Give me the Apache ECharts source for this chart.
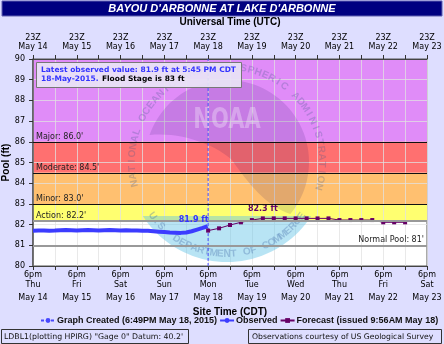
<!DOCTYPE html>
<html><head><meta charset="utf-8">
<script src="https://cdn.jsdelivr.net/npm/echarts@6/dist/echarts.min.js"></script>
<style>html,body{margin:0;padding:0;background:#dedeff;}#c{width:444px;height:344px;}</style>
</head><body><div id="c"></div>
<script>
// ---- data ----
const dayNames = ['Thu','Fri','Sat','Sun','Mon','Tue','Wed','Thu','Fri','Sat'];
const dateLabels = ['May 14','May 15','May 16','May 17','May 18','May 19','May 20','May 21','May 22','May 23'];
const utcLabel = '23Z';
// hours after 6pm CDT May 14
const obsHours = [0,3,6,9,12,15,18,21,24,27,30,33,36,39,42,45,48,51,54,57,60,63,66,69,72,75,78,81,84,87,90,93,95.75];
const obsValues = [81.70,81.71,81.72,81.70,81.71,81.73,81.74,81.73,81.72,81.73,81.74,81.73,81.72,81.73,81.74,81.73,81.72,81.73,81.72,81.71,81.70,81.70,81.68,81.66,81.64,81.62,81.61,81.60,81.62,81.68,81.76,81.84,81.92];
const fcstHours = [96,102,108,114,120,126,132,138,144,150,156,162,168,174,180,186,192,198,204];
const fcstValues = [81.71,81.82,81.98,82.11,82.22,82.3,82.3,82.3,82.3,82.3,82.3,82.3,82.22,82.22,82.22,82.22,82.11,82.11,82.11];
const graphCreatedHour = 96;
const stageNames = ['Major','Moderate','Minor','Action'];
const stageValues = [86.0,84.5,83.0,82.2];
const normalPool = 81;
const latestObs = 81.9;
const peakFcst = 82.3;

// ---- chart ----
const chart = echarts.init(document.getElementById('c'), null, {renderer:'canvas'});
const F = 'DejaVu Sans';
const bandColors = ['#e08cf8','#ff7070','#ffc070','#ffff70'];
const bandTops = [90].concat(stageValues.slice(0,3));
const markAreaData = stageValues.map((v,i)=>[{yAxis:v,itemStyle:{color:bandColors[i]}},{yAxis:bandTops[i]}]);
const markLineData = stageValues.map((v,i)=>({
  yAxis:v,
  lineStyle: i===3 ? {color:'#999',width:2,type:'solid'} : {color:'#111',width:1,type:'solid'},
  label:{formatter: stageNames[i]+': '+v.toFixed(1)+"'", position:'insideStartTop'}
}));
markLineData.push({yAxis:normalPool,lineStyle:{color:'#999',width:2,type:'solid'},
  label:{formatter:"Normal Pool: "+normalPool+"'",position:'insideEndTop'}});

// watermark (decorative)
const cx=227, cy=162;
function arcPts(r,a0,a1,n){const p=[];for(let i=0;i<=n;i++){const a=(a0+(a1-a0)*i/n)*Math.PI/180;p.push([cx+r*Math.cos(a),cy+r*Math.sin(a)]);}return p;}
function bez(p0,p1,p2,p3,n){const p=[];for(let i=1;i<=n;i++){const t=i/n,u=1-t;
  p.push([cx+u*u*u*p0[0]+3*u*u*t*p1[0]+3*u*t*t*p2[0]+t*t*t*p3[0], cy+u*u*u*p0[1]+3*u*u*t*p1[1]+3*u*t*t*p2[1]+t*t*t*p3[1]]);}return p;}
const capPts = arcPts(100,32.7,147.3,40);
const darkPts = arcPts(82,199.2,399.4,60)
  .concat(bez([63.4,52],[40,45],[20,20],[5,-2],16))
  .concat(bez([5,-2],[-15,-20],[-50,-30],[-77.4,-27],16));
const wm=[];
wm.push({type:'polygon',z:3,silent:true,shape:{points:capPts},style:{fill:'rgba(98,195,231,0.45)'}});
wm.push({type:'polygon',z:3,silent:true,shape:{points:darkPts},style:{fill:'rgba(20,0,90,0.12)'}});
wm.push({type:'text',x:cx,y:121,z:3,silent:true,scaleY:1.35,
  style:{text:'NOAA',fill:'rgba(255,255,255,0.3)',font:'bold 21px "DejaVu Sans"',align:'center',verticalAlign:'middle'}});
const topTxt='NATIONAL OCEANIC AND ATMOSPHERIC ADMINISTRATION';
for(let i=0;i<topTxt.length;i++){
  const th=(167+(375-167)*i/(topTxt.length-1))*Math.PI/180;
  wm.push({type:'text',z:3,silent:true,x:cx+95*Math.cos(th),y:cy+95*Math.sin(th),rotation:-(th+Math.PI/2),
    style:{text:topTxt[i],fill:'rgba(70,90,140,0.28)',font:'bold 10px "Liberation Sans"',align:'center',verticalAlign:'middle'}});
}
const botTxt='U.S. DEPARTMENT OF COMMERCE';
for(let i=0;i<botTxt.length;i++){
  const th=(144-(144-36)*i/(botTxt.length-1))*Math.PI/180;
  wm.push({type:'text',z:3,silent:true,x:cx+92*Math.cos(th),y:cy+92*Math.sin(th),rotation:Math.PI/2-th,
    style:{text:botTxt[i],fill:'rgba(70,110,170,0.35)',font:'bold 10px "Liberation Sans"',align:'center',verticalAlign:'middle'}});
}

const graphics = [
  {type:'rect',z:0,shape:{x:2,y:1,width:440,height:15},style:{fill:'#000080',stroke:'#6060b0',lineWidth:1}},
  ...wm,
  {type:'rect',z:10,shape:{x:36.5,y:62.5,width:205,height:25},style:{fill:'rgba(232,228,245,0.92)',stroke:'#777',lineWidth:1}},
  {type:'text',z:11,x:41,y:70,style:{text:'Latest observed value: '+latestObs+' ft at 5:45 PM CDT',fill:'#3333ff',font:'bold 7.5px "DejaVu Sans"',verticalAlign:'middle'}},
  {type:'text',z:11,x:41,y:79.3,style:{text:'{b|18-May-2015.} {k|Flood Stage is 83 ft}',verticalAlign:'middle',
    rich:{b:{fill:'#3333ff',font:'bold 7.5px "DejaVu Sans"'},k:{fill:'#000',font:'bold 7.5px "DejaVu Sans"'}}}},
  {type:'rect',z:0,shape:{x:1.5,y:329.5,width:187,height:14},style:{fill:'none',stroke:'#333',lineWidth:1}},
  {type:'text',z:1,x:4,y:337,style:{text:'LDBL1(plotting HPIRG) "Gage 0" Datum: 40.2\'',fill:'#111',font:'7.8px "DejaVu Sans"',verticalAlign:'middle'}},
  {type:'rect',z:0,shape:{x:248.5,y:329.5,width:193,height:14},style:{fill:'none',stroke:'#333',lineWidth:1}},
  {type:'text',z:1,x:252,y:337,style:{text:'Observations courtesy of US Geological Survey',fill:'#111',font:'7.7px "DejaVu Sans"',verticalAlign:'middle'}}
];

const axisCommon = {
  type:'value', min:0, max:216, interval:12, z:2,
  axisLine:{show:true,lineStyle:{color:'#444',width:1}},
  axisTick:{show:true,length:4,lineStyle:{color:'#333'}},
  splitLine:{show:true,lineStyle:{color:'rgba(225,225,225,0.75)',width:1}},
};

const option = {
  backgroundColor:'#dedeff',
  animation:false,
  title:{text:"BAYOU D'ARBONNE AT LAKE D'ARBONNE",left:'center',top:2,padding:0,
    textStyle:{color:'#fff',fontStyle:'italic',fontWeight:'bold',fontSize:11,fontFamily:'Liberation Sans',lineHeight:14}},
  graphic:graphics,
  grid:{left:33,right:17,top:59,bottom:78,outerBoundsMode:'none',containLabel:false,show:true,backgroundColor:'#fff',borderColor:'#555',borderWidth:1},
  legend:{left:40,top:316,width:404,itemWidth:14,itemHeight:6,itemGap:2,padding:0,
    textStyle:{fontFamily:'Liberation Sans',fontWeight:'bold',fontSize:9,color:'#111',padding:[0,0,0,-3]},
    data:['Graph Created (6:49PM May 18, 2015)','Observed','Forecast (issued 9:56AM May 18)']},
  xAxis:[
    Object.assign({},axisCommon,{position:'bottom',
      name:'Site Time (CDT)',nameLocation:'middle',nameGap:39,
      nameTextStyle:{fontFamily:'Liberation Sans',fontWeight:'bold',fontSize:10,color:'#000'},
      axisLabel:{margin:4,color:'#000',fontFamily:F,fontSize:8,
        formatter:v=>{ if(v%24!==0) return ''; const d=v/24; return '{a|6pm}\n{a|'+dayNames[d]+'}\n{b|'+dateLabels[d]+'}'; },
        rich:{a:{fontFamily:F,fontSize:8,lineHeight:10,color:'#000'},b:{fontFamily:F,fontSize:8,lineHeight:16,color:'#000'}}}}),
    Object.assign({},axisCommon,{position:'top',splitLine:{show:false},
      name:'Universal Time (UTC)',nameLocation:'middle',nameGap:32,
      nameTextStyle:{fontFamily:'Liberation Sans',fontWeight:'bold',fontSize:10,color:'#000'},
      axisLabel:{margin:8,color:'#000',fontFamily:F,fontSize:8,lineHeight:9,
        formatter:v=>{ if(v%24!==0) return ''; return utcLabel+'\n'+dateLabels[v/24]; }}})
  ],
  yAxis:{type:'value',min:80,max:90,interval:1,z:2,
    name:'Pool (ft)',nameLocation:'middle',nameGap:22,nameRotate:90,nameMoveOverlap:false,
    nameTextStyle:{fontFamily:'Liberation Sans',fontWeight:'bold',fontSize:10,color:'#000'},
    axisLine:{show:true,lineStyle:{color:'#555',width:1.5}},
    axisTick:{show:true,length:4,lineStyle:{color:'#333'}},
    axisLabel:{margin:8,color:'#000',fontFamily:F,fontSize:8},
    splitLine:{show:true,lineStyle:{color:'rgba(225,225,225,0.75)',width:1}}},
  series:[
    {name:'bands',type:'line',data:[],z:1,
      markArea:{silent:true,data:markAreaData},
      markLine:{silent:true,symbol:['none','none'],
        label:{fontFamily:F,fontSize:8,color:'#222',distance:[3,1]},
        data:markLineData}},
    {name:'Graph Created (6:49PM May 18, 2015)',type:'line',z:4,symbol:'none',
      data:[[graphCreatedHour,80],[graphCreatedHour,90]],
      itemStyle:{color:'#4848ff'},lineStyle:{color:'#4848ff',width:1,type:[3,2]}},
    {name:'Observed',type:'line',z:4,symbol:'circle',symbolSize:4,showSymbol:false,
      data:obsHours.map((h,i)=>[h,obsValues[i]]),
      itemStyle:{color:'#3c3cff'},lineStyle:{color:'#3c3cff',width:4},
      markPoint:{symbol:'circle',symbolSize:1,silent:true,
        label:{show:true,position:'top',distance:2,offset:[-14,0],formatter:latestObs.toFixed(1)+' ft',
          color:'#3333ff',fontFamily:F,fontWeight:'bold',fontSize:8},
        itemStyle:{color:'rgba(0,0,0,0)'},
        data:[{coord:[obsHours[obsHours.length-1],obsValues[obsValues.length-1]]}]}},
    {name:'Forecast (issued 9:56AM May 18)',type:'line',z:4,symbol:'rect',symbolSize:4,
      data:fcstHours.map((h,i)=>{
        const it={value:[h,fcstValues[i]]};
        if(i===fcstValues.indexOf(peakFcst)) it.label={show:true,position:'top',distance:3,formatter:peakFcst.toFixed(1)+' ft',
          color:'#660066',fontFamily:F,fontWeight:'bold',fontSize:8};
        return it;}),
      itemStyle:{color:'#660066'},lineStyle:{color:'#660066',width:1}}
  ]
};
chart.setOption(option);
</script></body></html>
